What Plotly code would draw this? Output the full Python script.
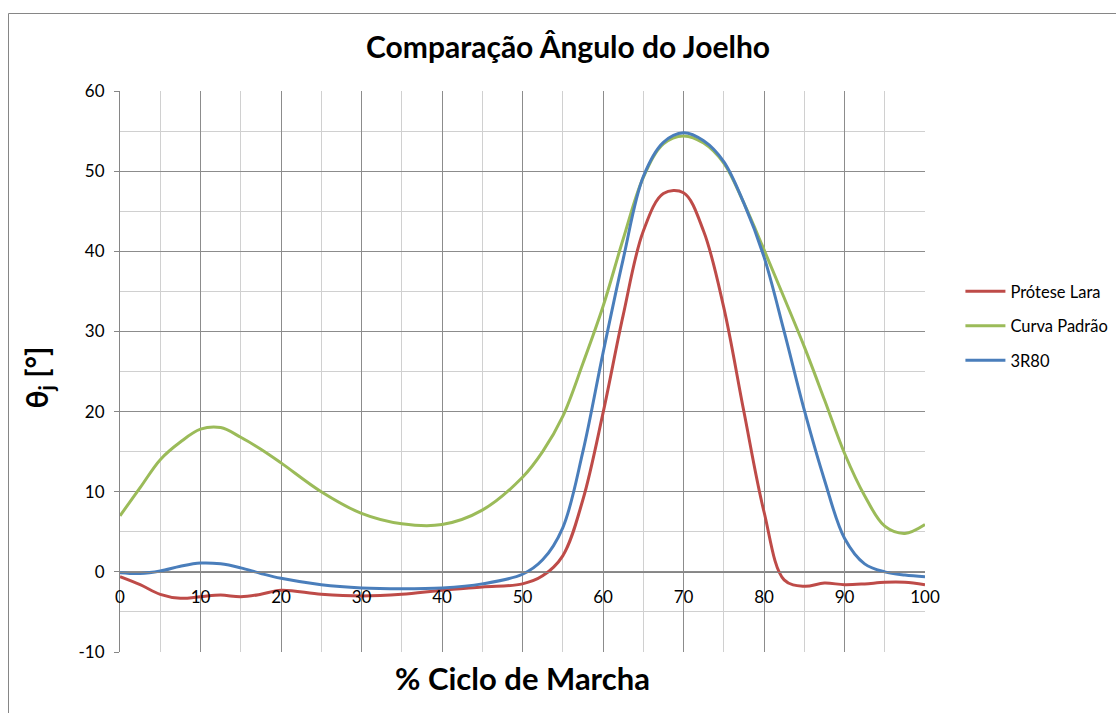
import plotly.graph_objects as go

# % of gait cycle
ciclo = [0, 2.5, 5, 7.5, 10, 12.5, 15, 17.5, 20, 25, 30, 35, 40, 45, 50, 52.5,
         55, 57.5, 60, 62.5, 65, 67.5, 70, 72.5, 75, 77.5, 80, 82.5, 85, 87.5,
         90, 92.5, 95, 97.5, 100]

protese_lara = [-0.6, -1.6, -2.8, -3.3, -3.1, -2.9, -3.1, -2.8, -2.3, -2.8, -3.0,
                -2.8, -2.3, -1.9, -1.5, -0.5, 2.0, 9.0, 19.8, 32.0, 42.5, 47.2,
                47.3, 42.5, 33.0, 20.0, 7.5, -1.0, -1.8, -1.4, -1.6, -1.5, -1.3,
                -1.3, -1.6]

curva_padrao = [7.0, 10.5, 14.0, 16.2, 17.8, 18.0, 16.8, 15.3, 13.6, 10.0, 7.3,
                6.0, 5.9, 7.7, 11.8, 15.0, 19.4, 26.0, 33.1, 41.5, 49.2, 53.4,
                54.4, 53.5, 51.0, 46.0, 40.2, 34.2, 28.1, 21.5, 14.8, 9.5, 5.7,
                4.8, 5.9]

r80 = [-0.1, -0.2, 0.1, 0.7, 1.1, 1.0, 0.5, -0.2, -0.8, -1.6, -2.0, -2.1, -2.0,
       -1.5, -0.3, 1.5, 5.5, 15.0, 27.3, 39.0, 49.3, 53.6, 54.8, 53.8, 51.2,
       46.0, 39.3, 30.0, 20.2, 11.5, 4.2, 1.0, 0.0, -0.4, -0.6]

# y-axis ticks (plain hyphen for the negative label)
y_ticks = [-10, 0, 10, 20, 30, 40, 50, 60]
y_tick_labels = ["-10", "0", "10", "20", "30", "40", "50", "60"]

series = [
    ("Prótese Lara", protese_lara, "#BE4B48"),
    ("Curva Padrão", curva_padrao, "#9BBB59"),
    ("3R80", r80, "#4A7EBB"),
]

FONT = "Lato"

fig = go.Figure()
for i, (nome, vals, cor) in enumerate(series):
    fig.add_trace(go.Scatter(
        x=ciclo, y=vals, name=nome, mode="lines",
        line=dict(color=cor, width=3, shape="spline", smoothing=1.0),
        legendgroup=f"g{i}",
    ))

fig.update_layout(
    width=1116, height=713,
    margin=dict(l=120, r=191, t=91, b=61, autoexpand=False),
    paper_bgcolor="white", plot_bgcolor="white",
    font=dict(family=FONT, color="#000000"),
    showlegend=True,
    legend=dict(
        x=1.044, y=0.581, xanchor="left", yanchor="middle",
        font=dict(size=16.5, family=FONT, color="#000000"),
        traceorder="grouped", tracegroupgap=10,
        bgcolor="rgba(0,0,0,0)", itemwidth=40,
    ),
    title=dict(
        text="<b>Comparação Ângulo do Joelho</b>",
        x=0.509, xanchor="center", y=0.933, yanchor="middle",
        font=dict(size=30, family=FONT, color="#000000"),
    ),
)

fig.update_xaxes(
    range=[0, 100], dtick=10, tick0=0,
    showgrid=True, gridcolor="#8C8C8C", gridwidth=1,
    minor=dict(dtick=5, showgrid=True, gridcolor="#D0D0D0", gridwidth=1),
    showline=True, linecolor="#868686", linewidth=1,
    anchor="free", position=1 / 7,
    ticks="", ticklabelstandoff=10,
    tickfont=dict(size=17, family=FONT, color="#000000"),
    zeroline=False,
)
fig.update_yaxes(
    range=[-10, 60], tickmode="array", tickvals=y_ticks, ticktext=y_tick_labels,
    showgrid=True, gridcolor="#8C8C8C", gridwidth=1,
    minor=dict(dtick=5, tick0=0, showgrid=True, gridcolor="#D0D0D0", gridwidth=1),
    showline=True, linecolor="#868686", linewidth=1,
    ticks="outside", ticklen=5, tickcolor="#868686",
    ticklabelstandoff=6,
    tickfont=dict(size=17, family=FONT, color="#000000"),
    zeroline=False,
)

# axis titles
fig.add_annotation(
    text="<b>θ<sub>j</sub> [°]</b>", xref="paper", yref="paper",
    x=0, y=0.5, xshift=-83, yshift=-6, textangle=-90, showarrow=False,
    xanchor="center", yanchor="middle",
    font=dict(size=30, family=FONT, color="#000000"),
)
fig.add_annotation(
    text="<b>% Ciclo de Marcha</b>", xref="paper", yref="paper",
    x=0.5, y=0, yshift=-26, showarrow=False,
    xanchor="center", yanchor="middle",
    font=dict(size=31, family=FONT, color="#000000"),
)

# chart-area border
fig.add_shape(
    type="rect", xref="paper", yref="paper",
    x0=(8.5 - 120) / 805, x1=(1130 - 120) / 805,
    y0=(652 - 13.5) / 561, y1=(652 - 730) / 561,
    line=dict(color="#868686", width=1), layer="below",
)

fig.write_html("out.html")
